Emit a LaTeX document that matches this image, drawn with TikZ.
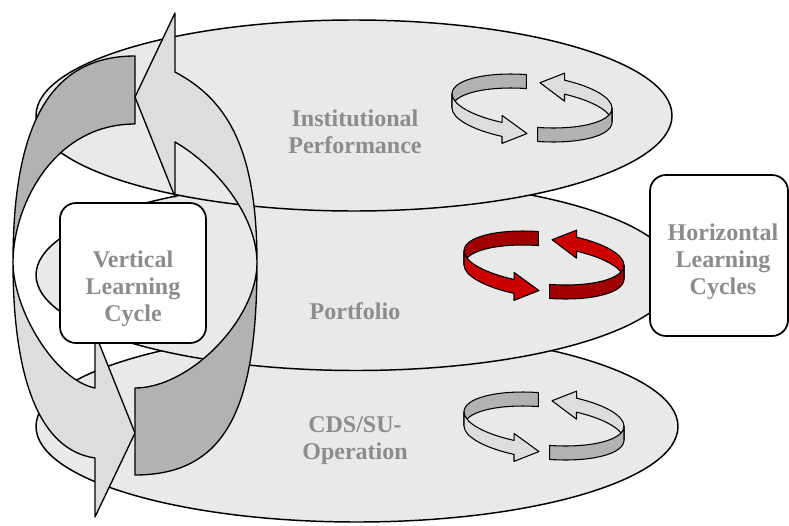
\documentclass[tikz,border=0pt]{standalone}
\usepackage{fontspec}
\setmainfont{Liberation Serif}
\definecolor{diskgray}{RGB}{233,233,233}
\definecolor{bandlight}{RGB}{221,221,221}
\definecolor{banddark}{RGB}{178,178,178}
\definecolor{redlight}{RGB}{204,0,0}
\definecolor{reddark}{RGB}{160,0,0}
\definecolor{labelgray}{RGB}{140,140,140}

\tikzset{every picture/.style={line width=1pt, x=0.75pt, y=-0.75pt},
        disk/.style={draw=black, fill=diskgray, line width=1.1pt},
        band/.style={draw=black, line width=1pt, line join=round},
        layerLabel/.style={text=labelgray, font=\fontsize{18}{20.25}\selectfont\bfseries, align=center},
        cycleBox/.style={draw=black, fill=white, rounded corners=12pt, line width=1.3pt}}

% one small turning cycle: #1 centre, #2 light colour, #3 dark colour
\newcommand{\flatCycle}[3]{%
  \begin{scope}[shift={#1}, yslant=-0.09, band, line width=0.8pt]
    % back half
    \draw[fill=#3] (266:80 and 26) arc[start angle=266, end angle=180, x radius=80, y radius=26]
      -- ++(0,14) arc[start angle=180, end angle=266, x radius=80, y radius=26] -- cycle;
    \draw[fill=#2] (0:80 and 26) arc[start angle=360, end angle=294, x radius=80, y radius=26]
      -- ++(0,-7) -- (8,-19) -- (32.5,-2.75) -- ++(0,-7)
      arc[start angle=294, end angle=360, x radius=80, y radius=26] -- cycle;
    % front half
    \draw[fill=#2] (180:80 and 26) arc[start angle=180, end angle=112, x radius=80, y radius=26]
      -- ++(0,-7) -- (-5,33) -- (-30,45.1) -- ++(0,-7)
      arc[start angle=112, end angle=180, x radius=80, y radius=26] -- cycle;
    \draw[fill=#3] (86:80 and 26) arc[start angle=86, end angle=0, x radius=80, y radius=26]
      -- ++(0,14) arc[start angle=0, end angle=86, x radius=80, y radius=26] -- cycle;
  \end{scope}}

\begin{document}
\begin{tikzpicture}
\useasboundingbox (0,0) rectangle (789,525);

% draw the three layers, lowest first
\draw[disk] (357,426.5) ellipse[x radius=321, y radius=95.5];
\draw[disk] (356,275) ellipse[x radius=320, y radius=95.5];
\draw[disk] (354,115.5) ellipse[x radius=318, y radius=95.5];

% layer names
\node[layerLabel] (inst) at (355,131.5) {Institutional\\Performance};
\node[layerLabel] (port) at (355,311) {Portfolio};
\node[layerLabel] (cds) at (355,441) {CDS/SU-\\Operation};

% horizontal cycles
\flatCycle{(532,101)}{bandlight}{banddark}
\flatCycle{(544,258)}{redlight}{reddark}
\flatCycle{(544,419)}{bandlight}{banddark}

% vertical cycle
\coordinate (xl) at (13,262);
\coordinate (xr) at (257,263);
\draw[band, fill=banddark] (135,56) .. controls (50,56) and (13,125) .. (xl)
   .. controls (13,208) and (52,124) .. (135,124) -- cycle;
\draw[band, fill=bandlight] (175,72) .. controls (228,100) and (257,150) .. (xr)
   .. controls (257,215) and (215,165) .. (175,142) -- (175,197) -- (135,97) -- (175,13) -- cycle;
\draw[band, fill=bandlight] (xl) .. controls (13,310) and (55,380) .. (95,388)
   -- (95,333) -- (135,433) -- (95,517) -- (95,458) .. controls (40,450) and (13,380) .. (xl) -- cycle;
\draw[band, fill=banddark] (xr) .. controls (257,319) and (190,388) .. (135,388)
   -- (135,475) .. controls (228,475) and (257,405) .. (xr) -- cycle;

% boxes
\node[cycleBox, minimum width=109.5pt, minimum height=105pt] (vbox) at (133,273) {};
\node[layerLabel] (vtext) at (133,289) {Vertical\\Learning\\Cycle};
\node[cycleBox, minimum width=103.5pt, minimum height=120.75pt] (hbox) at (719,255.5) {};
\node[layerLabel] (htext) at (723,262) {Horizontal\\Learning\\Cycles};

\end{tikzpicture}
\end{document}
